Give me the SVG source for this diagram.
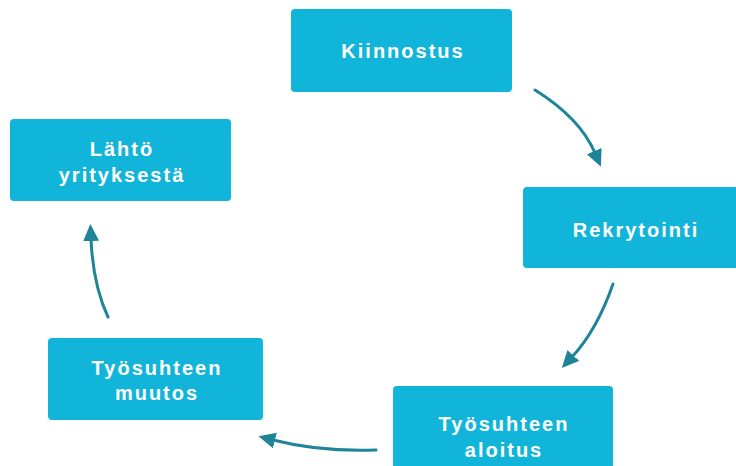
<svg xmlns="http://www.w3.org/2000/svg" width="736" height="466" viewBox="0 0 736 466">
<defs>
<style>
.box{fill:#12b5da;}
.t{font-family:"Liberation Sans",Arial,sans-serif;font-weight:bold;font-size:20px;fill:#ffffff;text-anchor:middle;letter-spacing:2px;}
.c{fill:none;stroke:#1e8599;stroke-width:3;stroke-linecap:round;}
</style>
<marker id="ah" markerUnits="userSpaceOnUse" markerWidth="20" markerHeight="18" refX="2" refY="8" orient="auto">
<path d="M0,0 L17,8 L0,16 z" fill="#1e8599"/>
</marker>
</defs>
<rect width="736" height="466" fill="#ffffff"/>
<g id="kiinnostus">
<rect class="box" x="291" y="9" width="221" height="83" rx="4"/>
<text class="t" x="403" y="58">Kiinnostus</text>
</g>
<g id="rekrytointi">
<rect class="box" x="523" y="187" width="225" height="81" rx="4"/>
<text class="t" x="636" y="237">Rekrytointi</text>
</g>
<g id="aloitus">
<rect class="box" x="393" y="386" width="220" height="90" rx="4"/>
<text class="t" x="504" y="431">Työsuhteen</text>
<text class="t" x="504" y="457">aloitus</text>
</g>
<g id="muutos">
<rect class="box" x="48" y="338" width="215" height="82" rx="4"/>
<text class="t" x="157" y="375">Työsuhteen</text>
<text class="t" x="157" y="400">muutos</text>
</g>
<g id="lahto">
<rect class="box" x="10" y="119" width="221" height="82" rx="4"/>
<text class="t" x="122" y="156">Lähtö</text>
<text class="t" x="122" y="182">yrityksestä</text>
</g>
<g id="connectors">
<path class="c" d="M535,90 Q580,118 595,153" marker-end="url(#ah)"/>
<path class="c" d="M613,284 Q597,330 572,357" marker-end="url(#ah)"/>
<path class="c" d="M376,450 Q320,452 273,440" marker-end="url(#ah)"/>
<path class="c" d="M108,317 Q93,285 91,239" marker-end="url(#ah)"/>
</g>
</svg>
